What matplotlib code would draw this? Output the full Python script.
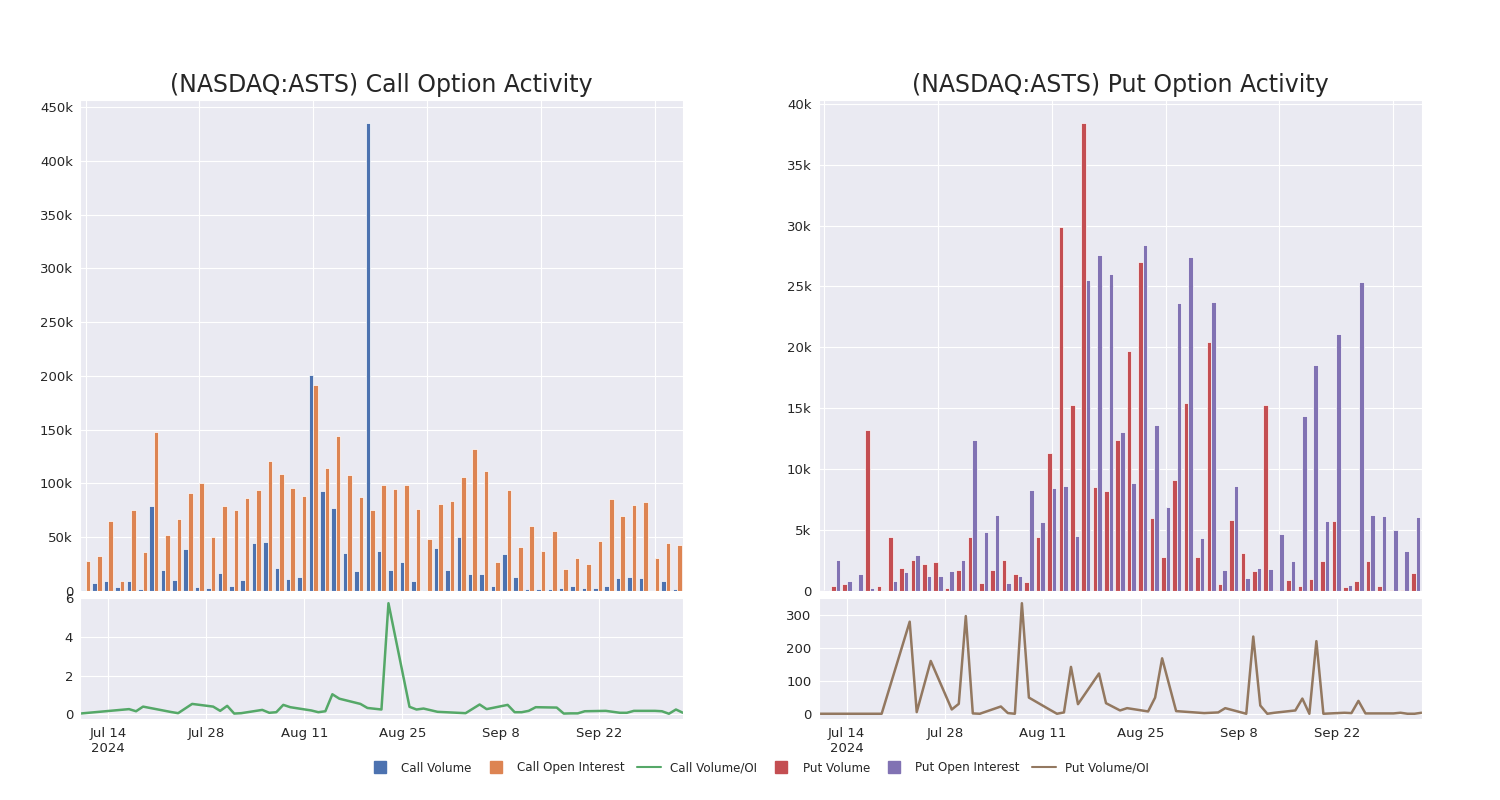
import matplotlib
matplotlib.use("Agg")
import matplotlib.pyplot as plt
import matplotlib.dates as mdates
from matplotlib.lines import Line2D
from matplotlib.ticker import FuncFormatter, MultipleLocator
import numpy as np
import pandas as pd
import seaborn as sns

# trading days in the option data
dates = pd.to_datetime([
    "2024-07-10", "2024-07-17", "2024-07-18", "2024-07-19", "2024-07-23", "2024-07-24",
    "2024-07-26", "2024-07-29", "2024-07-30", "2024-07-31", "2024-08-01", "2024-08-02",
    "2024-08-05", "2024-08-06", "2024-08-07", "2024-08-08", "2024-08-09", "2024-08-12",
    "2024-08-13", "2024-08-14", "2024-08-15", "2024-08-16", "2024-08-19", "2024-08-20",
    "2024-08-22", "2024-08-23", "2024-08-26", "2024-08-27", "2024-08-28", "2024-08-30",
    "2024-09-03", "2024-09-05", "2024-09-06", "2024-09-09", "2024-09-10", "2024-09-11",
    "2024-09-12", "2024-09-13", "2024-09-16", "2024-09-17", "2024-09-18", "2024-09-19",
    "2024-09-20", "2024-09-23", "2024-09-24", "2024-09-25", "2024-09-26", "2024-09-27",
    "2024-09-30", "2024-10-01", "2024-10-02", "2024-10-03", "2024-10-04",
])

# values in thousands of contracts
call_volume = [0.5, 7, 9, 3, 9, 1.5, 78.6, 19.6, 10, 39, 3, 2.5, 16.2, 4.4, 10.3, 44.3,
               45.2, 20.9, 10.6, 12.8, 200.5, 92.6, 76.7, 34.9, 18.4, 435, 37.4, 19.3,
               26.5, 9, 1, 40.2, 19.6, 49.9, 15.6, 15.6, 4.4, 34, 12.8, 1.5, 1.5, 2, 2.3,
               4, 2.5, 2.5, 4, 11.5, 12.5, 11.5, 0.2, 9.4, 2]
call_oi = [28, 32, 65, 9, 75.5, 36.5, 147.5, 51.5, 66.7, 91, 100.4, 49.9, 78.6, 75.1,
           86.7, 93.3, 121, 108.5, 95.7, 88, 191.5, 114.4, 143.8, 107.6, 87, 75.1, 98,
           94.8, 98, 76, 48.6, 81, 83.3, 105.7, 131.6, 111.3, 26.5, 93.3, 40.5, 60.2,
           37.1, 55.8, 20.3, 30.6, 25, 46.2, 85.8, 69.2, 79.5, 83, 30.3, 44, 43]
call_ratio = [0.03, 0.26, 0.15, 0.39, 0.11, 0.05, 0.53, 0.39, 0.17, 0.43, 0.03, 0.05,
              0.22, 0.07, 0.10, 0.48, 0.36, 0.19, 0.10, 0.15, 1.03, 0.80, 0.53, 0.32,
              0.24, 5.75, 0.38, 0.24, 0.29, 0.12, 0.05, 0.50, 0.26, 0.48, 0.10, 0.10,
              0.17, 0.36, 0.34, 0.03, 0.04, 0.04, 0.15, 0.17, 0.12, 0.07, 0.07, 0.17,
              0.17, 0.15, 0.02, 0.24, 0.07]

put_volume = [0, 0.36, 0.55, 0, 13.2, 0.36, 4.4, 1.84, 2.5, 2.17, 2.4, 0.2, 1.73, 4.4,
              0.63, 1.68, 2.5, 1.37, 0.69, 4.4, 11.3, 29.9, 15.3, 38.4, 8.5, 8.2, 12.4,
              19.7, 27, 5.97, 2.8, 9.07, 15.45, 2.75, 20.4, 0.55, 5.8, 3.08, 1.6, 15.3,
              0.02, 0.88, 0.4, 0.99, 2.47, 5.75, 0.33, 0.82, 2.47, 0.41, 0.03, 0.03, 1.48]
put_oi = [0.05, 2.5, 0.77, 1.37, 0.22, 0.05, 0.77, 1.5, 2.9, 1.24, 1.24, 1.65, 2.5, 12.4,
          4.84, 6.2, 0.63, 1.18, 8.3, 5.66, 8.4, 8.58, 4.5, 25.5, 27.6, 26, 13.06, 8.85,
          28.4, 13.6, 6.9, 23.6, 27.4, 4.3, 23.7, 1.7, 8.58, 1.04, 1.84, 1.79, 4.67,
          2.47, 14.35, 18.55, 5.7, 21.1, 0.44, 25.35, 6.24, 6.16, 5.03, 3.3, 6.05]
put_ratio = [0, 0, 0, 0, 279, 5, 160, 13, 30, 296, 1, 0, 22, 2, 0, 335, 49, 12, 0, 4,
             142, 29, 122, 32, 10, 17, 7, 49, 168, 8, 2, 4, 17, 0, 234, 25, 0, 3, 10,
             46, 0, 220, 0, 3, 2, 39, 1, 1, 1, 3, 0, 0, 3]

tick_dates = pd.to_datetime(["2024-07-14", "2024-07-28", "2024-08-11",
                             "2024-08-25", "2024-09-08", "2024-09-22"])

sns.set_style("darkgrid")
plt.rcParams['font.family'] = ['DejaVu Sans']

colors = {
    "call_vol": "#4C72B0", "call_oi": "#DD8452", "call_ratio": "#55A868",
    "put_vol": "#C44E52", "put_oi": "#8172B3", "put_ratio": "#937860",
}

fig = plt.figure(figsize=(15, 8), dpi=100)

def k_fmt(v, pos):
    if v == 0:
        return "0"
    return f"{v:g}k"

def date_fmt(v, pos):
    d = mdates.num2date(v)
    label = f"{d.strftime('%b')} {d.day}"
    if pos == 0:
        label += "\n2024"
    return label

def draw_panel(left, title, vol, oi, ratio, c_vol, c_oi, c_ratio, step, ratio_ticks):
    ax_top = fig.add_axes([left, 0.2616, 0.402, 0.6134])
    ax_bot = fig.add_axes([left, 0.1009, 0.402, 0.152])

    x = np.arange(len(vol))
    ax_top.bar(x - 0.2, vol, width=0.4, color=c_vol, edgecolor="white", linewidth=0.5)
    ax_top.bar(x + 0.2, oi, width=0.4, color=c_oi, edgecolor="white", linewidth=0.5)
    ax_top.set_xlim(-0.5, len(vol) - 0.5)
    ax_top.set_xticks(range(0, len(vol), 10))
    ax_top.set_xticklabels([])
    ax_top.yaxis.set_major_locator(MultipleLocator(step))
    ax_top.yaxis.set_major_formatter(FuncFormatter(k_fmt))
    ax_top.tick_params(axis="y", labelsize=9.5, pad=1.5)
    ax_top.set_title(title, fontsize=17)

    ax_bot.plot(dates, ratio, color=c_ratio, linewidth=1.8)
    ax_bot.set_xlim(dates[0], dates[-1])
    ax_bot.set_xticks(tick_dates)
    ax_bot.xaxis.set_major_formatter(FuncFormatter(date_fmt))
    ax_bot.set_yticks(ratio_ticks)
    ax_bot.tick_params(axis="y", labelsize=9.5, pad=1.5)
    ax_bot.tick_params(axis="x", labelsize=9.5, pad=2)
    return ax_top, ax_bot

draw_panel(0.0533, "(NASDAQ:ASTS) Call Option Activity", call_volume, call_oi, call_ratio,
           colors["call_vol"], colors["call_oi"], colors["call_ratio"], 50, [0, 2, 4, 6])
draw_panel(0.5457, "(NASDAQ:ASTS) Put Option Activity", put_volume, put_oi, put_ratio,
           colors["put_vol"], colors["put_oi"], colors["put_ratio"], 5, [0, 100, 200, 300])

handles = [
    Line2D([], [], marker="s", linestyle="None", markersize=9, color=colors["call_vol"]),
    Line2D([], [], marker="s", linestyle="None", markersize=9, color=colors["call_oi"]),
    Line2D([], [], color=colors["call_ratio"], linewidth=1.5),
    Line2D([], [], marker="s", linestyle="None", markersize=9, color=colors["put_vol"]),
    Line2D([], [], marker="s", linestyle="None", markersize=9, color=colors["put_oi"]),
    Line2D([], [], color=colors["put_ratio"], linewidth=1.5),
]
labels = ["Call Volume", "Call Open Interest", "Call Volume/OI",
          "Put Volume", "Put Open Interest", "Put Volume/OI"]
fig.legend(handles, labels, loc="center", bbox_to_anchor=(0.5057, 0.04), ncol=6,
           frameon=False, fontsize=8.6, columnspacing=1.0)

fig.savefig("out.png", dpi=100)
